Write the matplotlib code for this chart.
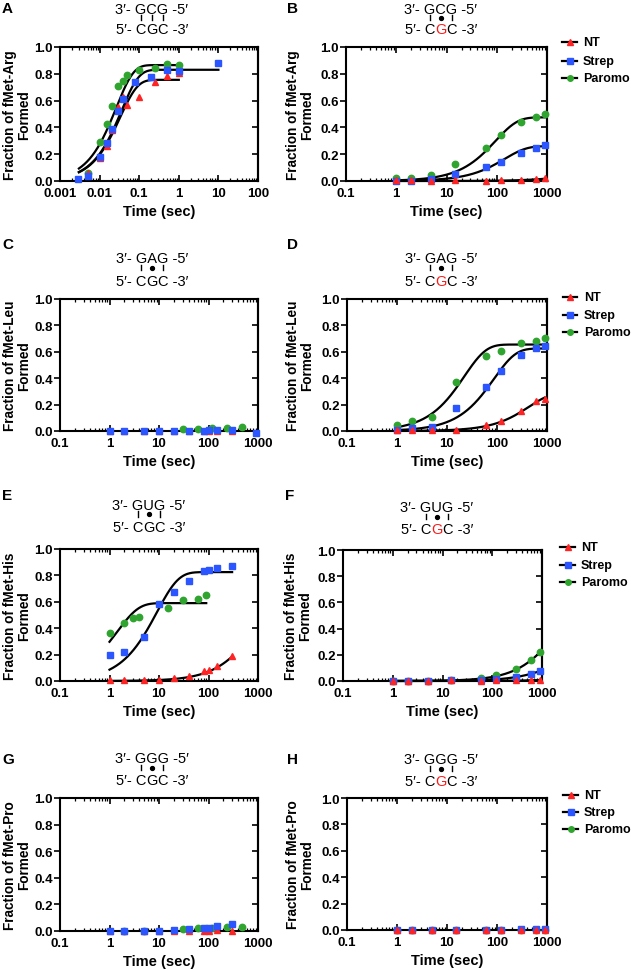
import numpy as np
import matplotlib
matplotlib.use('Agg')
import matplotlib.pyplot as plt
from matplotlib.lines import Line2D
from matplotlib.font_manager import FontProperties
from matplotlib.ticker import FixedLocator, LogLocator, NullFormatter

W, H = 631, 970
plt.rcParams['font.family'] = ['Liberation Sans', 'DejaVu Sans']

RED = '#ff2424'
BLUE = '#2b55ff'
GREEN = '#2fa52f'

# ---------------- data ----------------
# Panel A : fMet-Arg, cognate
a_nt_t = [0.005, 0.01, 0.015, 0.02, 0.03, 0.04, 0.05, 0.1, 0.25, 0.5, 1.0]
a_nt_y = [0.06, 0.17, 0.26, 0.38, 0.555, 0.625, 0.567, 0.625, 0.737, 0.787, 0.805]
a_st_t = [0.0028, 0.0052, 0.01, 0.015, 0.02, 0.03, 0.04, 0.077, 0.2, 0.5, 1.0, 10]
a_st_y = [0.012, 0.037, 0.18, 0.28, 0.387, 0.52, 0.61, 0.742, 0.775, 0.83, 0.818, 0.88]
a_pa_t = [0.005, 0.01, 0.015, 0.02, 0.03, 0.04, 0.05, 0.1, 0.25, 0.5, 1.0]
a_pa_y = [0.06, 0.2875, 0.425, 0.557, 0.707, 0.75, 0.79, 0.825, 0.845, 0.875, 0.863]
# fits: amplitude, rate (1/s), t start, t end
a_nt_fit = [0.755, 30.0, 0.003, 1.0]
a_st_fit = [0.83, 28.0, 0.003, 10.0]
a_pa_fit = [0.865, 38.0, 0.003, 1.0]

# Panel B
b_t = [1, 2, 5, 15, 60, 120, 300, 600, 900]
b_nt_y = [0.005, 0.005, 0.003, 0.005, 0.002, 0.005, 0.01, 0.015, 0.02]
b_st_y = [0.0, 0.0, 0.012, 0.05, 0.107, 0.145, 0.207, 0.25, 0.265]
b_pa_y = [0.02, 0.025, 0.045, 0.13, 0.25, 0.34, 0.4375, 0.48, 0.5]
b_nt_fit = [0.04, 0.0006, 1, 900]
b_st_fit = [0.26, 0.007, 1, 900]
b_pa_fit = [0.475, 0.0105, 1, 900]

# Panel C
c_nt_t = [1, 2, 5, 10, 20, 40, 80, 100, 150, 300]
c_nt_y = [0.0, 0.0, 0.0, 0.0, 0.0, 0.0, 0.0, 0.0, 0.0, 0.002]
c_st_t = [1, 2, 5, 10, 20, 40, 80, 100, 150, 300, 900]
c_st_y = [0.0, 0.0, 0.0, 0.002, 0.002, 0.002, 0.002, 0.007, 0.01, 0.01, -0.015]
c_pa_t = [30, 60, 120, 240, 480]
c_pa_y = [0.013, 0.018, 0.02, 0.025, 0.028]

# Panel D
d_t = [1, 2, 5, 15, 60, 120, 300, 600, 900]
d_nt_y = [0.005, 0.005, 0.005, 0.01, 0.043, 0.076, 0.151, 0.224, 0.244]
d_st_y = [0.01, 0.023, 0.028, 0.174, 0.337, 0.458, 0.579, 0.63, 0.647]
d_pa_y = [0.043, 0.075, 0.105, 0.37, 0.57, 0.605, 0.667, 0.68, 0.703]
d_nt_fit = [0.29, 0.0023, 1, 900]
d_st_fit = [0.625, 0.0115, 1, 900]
d_pa_fit = [0.655, 0.045, 1, 900]

# Panel E
e_t = [1, 2, 5, 10, 20, 40, 80, 100, 150, 300]
e_nt_y = [0.005, 0.005, 0.005, 0.01, 0.023, 0.038, 0.073, 0.08, 0.113, 0.19]
e_st_y = [0.199, 0.219, 0.33, 0.584, 0.673, 0.756, 0.836, 0.844, 0.856, 0.874]
e_pa_t = [1, 2, 3, 4, 15, 30, 60, 90]
e_pa_y = [0.363, 0.44, 0.479, 0.484, 0.552, 0.61, 0.622, 0.655]
e_nt_fit = [0.5, 0.00154, 1, 300]
e_st_fit = [0.825, 0.11, 1, 300]
e_pa_fit = [0.59, 0.7, 1, 90]

# Panel F
f_t = [1, 2, 5, 15, 60, 120, 300, 600, 900]
f_nt_y = [0.003, 0.003, 0.003, 0.005, 0.003, 0.005, 0.005, 0.005, 0.008]
f_st_y = [0.0, 0.0, 0.002, 0.005, 0.01, 0.018, 0.03, 0.05, 0.076]
f_pa_y = [0.0, 0.0, 0.002, 0.005, 0.025, 0.048, 0.089, 0.157, 0.22]
f_nt_fit = [0.02, 0.0005, 1, 900]
f_st_fit = [0.17, 0.00065, 1, 900]
f_pa_fit = [0.49, 0.00065, 1, 900]

# Panel G
g_nt_t = [1, 2, 5, 10, 20, 40, 80, 100, 150, 300]
g_nt_y = [0.0, 0.0, 0.0, 0.0, 0.0, 0.0, 0.0, 0.0, 0.005, 0.003]
g_st_t = [1, 2, 5, 10, 20, 40, 80, 100, 150, 300]
g_st_y = [0.0, 0.002, 0.002, 0.003, 0.01, 0.012, 0.02, 0.022, 0.038, 0.055]
g_pa_t = [2, 5, 30, 60, 120, 240, 480]
g_pa_y = [0.003, 0.003, 0.018, 0.02, 0.025, 0.03, 0.033]

# Panel H
h_t = [1, 2, 5, 15, 60, 120, 300, 600, 900]
h_nt_y = [0.003, 0.003, 0.003, 0.003, 0.003, 0.003, 0.003, 0.003, 0.003]
h_st_y = [0.002, 0.002, 0.002, 0.002, 0.002, 0.003, 0.004, 0.004, 0.004]
h_pa_y = [0.0, 0.0, 0.0, 0.0, 0.0, 0.0, 0.0, 0.0, 0.0]

series_names = ['NT', 'Strep', 'Paromo']
y_ticks = [0.0, 0.2, 0.4, 0.6, 0.8, 1.0]
y_tick_labels = ['0.0', '0.2', '0.4', '0.6', '0.8', '1.0']
x_ticks_a = [0.001, 0.01, 0.1, 1, 10, 100]
x_labels_a = ['0.001', '0.01', '0.1', '1', '10', '100']
x_ticks_b = [0.1, 1, 10, 100, 1000]
x_labels_b = ['0.1', '1', '10', '100', '1000']

# ---------------- figure ----------------
fig = plt.figure(figsize=(W / 100, H / 100), dpi=100)
renderer = fig.canvas.get_renderer()

STYLE = {'NT': dict(marker='^', color=RED, ms=4.6),
         'Strep': dict(marker='s', color=BLUE, ms=4.3),
         'Paromo': dict(marker='o', color=GREEN, ms=4.6)}


def fx(x):
    return x / W


def fy(y):
    return 1 - y / H


def make_axes(l, r, t, b, xt, xl):
    ax = fig.add_axes([fx(l), fy(b), (r - l) / W, (b - t) / H])
    ax.set_xscale('log')
    ax.set_xlim(xt[0], xt[-1])
    ax.set_ylim(0, 1.0)
    ax.xaxis.set_major_locator(FixedLocator(xt))
    ax.set_xticklabels(xl)
    ax.xaxis.set_minor_locator(LogLocator(base=10, subs=np.arange(2, 10), numticks=20))
    ax.xaxis.set_minor_formatter(NullFormatter())
    ax.set_yticks(y_ticks)
    ax.set_yticklabels(y_tick_labels)
    for s in ax.spines.values():
        s.set_linewidth(1.5)
    ax.tick_params(axis='x', which='major', direction='in', top=True, bottom=True,
                   length=4, width=1.2, pad=4.5)
    ax.tick_params(axis='x', which='minor', direction='in', top=True, bottom=True,
                   length=2.5, width=0.9)
    ax.tick_params(axis='y', which='major', direction='out', left=True, right=False,
                   length=4, width=1.2, pad=1)
    for lab in ax.get_xticklabels() + ax.get_yticklabels():
        lab.set_fontweight('bold')
        lab.set_fontsize(9.5)
    sec = ax.secondary_yaxis('right')
    sec.set_yticks(y_ticks)
    sec.tick_params(direction='in', length=4, width=1.2, labelright=False)
    sec.spines['right'].set_linewidth(1.5)
    return ax


def plot_points(ax, t, y, name, z):
    st = STYLE[name]
    ax.plot(t, y, linestyle='none', marker=st['marker'], ms=st['ms'],
            mfc=st['color'], mec=st['color'], clip_on=False, zorder=z)


def plot_fit(ax, fit):
    amp, k, t0, t1 = fit
    tt = np.logspace(np.log10(t0), np.log10(t1), 300)
    ax.plot(tt, amp * (1 - np.exp(-k * tt)), color='black', lw=1.6, zorder=4,
            clip_on=False)


fp_codon = FontProperties(family=['Liberation Sans', 'DejaVu Sans'], size=10.5)


def tw(s):
    w, h, d = renderer.get_text_width_height_descent(s, fp_codon, ismath=False)
    return w


def codon(xc, y1, y2, top, bot, marks, red_mid):
    s1 = '3\u2032- ' + top + ' -5\u2032'
    x0 = xc - tw(s1) / 2
    base_off = 4.5
    fig.text(fx(x0), fy(y1 + base_off), s1, fontproperties=fp_codon,
             ha='left', va='baseline')
    p1 = '5\u2032- ' + bot[0]
    s2 = p1 + bot[1] + bot[2] + ' -3\u2032'
    x0b = xc - tw(s2) / 2
    fig.text(fx(x0b), fy(y2 + base_off), p1, fontproperties=fp_codon,
             ha='left', va='baseline')
    xm = x0b + tw(p1)
    fig.text(fx(xm), fy(y2 + base_off), bot[1], fontproperties=fp_codon,
             ha='left', va='baseline', color=('#ff1a1a' if red_mid else 'black'))
    xr = xm + tw(bot[1])
    fig.text(fx(xr), fy(y2 + base_off), bot[2] + ' -3\u2032', fontproperties=fp_codon,
             ha='left', va='baseline')
    pre = tw('5\u2032- ')
    centers = []
    for i in range(3):
        cx = x0b + pre + tw(bot[:i]) + tw(bot[i]) / 2
        centers.append(cx)
    ym = (y1 + y2) / 2 - 1.5
    for cx, m in zip(centers, marks):
        if m == '|':
            fig.add_artist(Line2D([fx(cx), fx(cx)], [fy(ym - 2.6), fy(ym + 2.6)],
                                  color='black', lw=1.0, transform=fig.transFigure))
        else:
            fig.add_artist(Line2D([fx(cx)], [fy(ym)], marker='o', ms=2.8,
                                  color='black', transform=fig.transFigure))


def legend(x0, x1, xt, rows):
    for name, yr in zip(series_names, rows):
        st = STYLE[name]
        fig.add_artist(Line2D([fx(x0), fx(x1)], [fy(yr), fy(yr)], color='black',
                              lw=1.6, transform=fig.transFigure))
        fig.add_artist(Line2D([fx((x0 + x1) / 2)], [fy(yr)], marker=st['marker'],
                              ms=st['ms'] - 0.6, mfc=st['color'], mec=st['color'],
                              transform=fig.transFigure))
        fig.text(fx(xt), fy(yr), name, fontsize=9, fontweight='bold',
                 ha='left', va='center')


def labels(ax, l, r, t, b, ylab, ylx, xlab=True):
    fig.text(fx(ylx), fy((t + b) / 2), ylab, rotation=90, ha='center', va='center',
             fontsize=9.8, fontweight='bold', multialignment='center',
             linespacing=1.0)
    if xlab:
        fig.text(fx((l + r) / 2), fy(b + 30), 'Time (sec)', ha='center',
                 va='center', fontsize=10.5, fontweight='bold')


def panel_letter(x, y, s):
    fig.text(fx(x), fy(y), s, fontsize=11, fontweight='bold', ha='left', va='center')


# ---- Panel A ----
L, R, T, B = 60, 258, 48, 182
ax = make_axes(L, R, T, B, x_ticks_a, x_labels_a)
plot_points(ax, a_pa_t, a_pa_y, 'Paromo', 5)
plot_points(ax, a_nt_t, a_nt_y, 'NT', 6)
plot_points(ax, a_st_t, a_st_y, 'Strep', 7)
for f in (a_nt_fit, a_st_fit, a_pa_fit):
    plot_fit(ax, f)
labels(ax, L, R, T, B, 'Fraction of fMet-Arg\nFormed', 17)
panel_letter(2, 9, 'A')
codon(152, 10, 30, 'GCG', 'CGC', '|||', False)

# ---- Panel B ----
L, R, T, B = 346, 547, 48, 182
ax = make_axes(L, R, T, B, x_ticks_b, x_labels_b)
plot_points(ax, b_t, b_pa_y, 'Paromo', 5)
plot_points(ax, b_t, b_st_y, 'Strep', 6)
plot_points(ax, b_t, b_nt_y, 'NT', 7)
for f in (b_nt_fit, b_st_fit, b_pa_fit):
    plot_fit(ax, f)
labels(ax, L, R, T, B, 'Fraction of fMet-Arg\nFormed', 300)
panel_letter(287, 9, 'B')
codon(441, 10, 30, 'GCG', 'CGC', '|•|', True)
legend(562, 577, 583, [43, 62, 79])

# ---- Panel C ----
L, R, T, B = 60, 258, 300, 432
ax = make_axes(L, R, T, B, x_ticks_b, x_labels_b)
plot_points(ax, c_nt_t, c_nt_y, 'NT', 5)
plot_points(ax, c_pa_t, c_pa_y, 'Paromo', 6)
plot_points(ax, c_st_t, c_st_y, 'Strep', 7)
labels(ax, L, R, T, B, 'Fraction of fMet-Leu\nFormed', 17)
panel_letter(2, 245, 'C')
codon(152, 259, 281, 'GAG', 'CGC', '|•|', False)

# ---- Panel D ----
L, R, T, B = 347, 547, 300, 432
ax = make_axes(L, R, T, B, x_ticks_b, x_labels_b)
plot_points(ax, d_t, d_pa_y, 'Paromo', 5)
plot_points(ax, d_t, d_st_y, 'Strep', 6)
plot_points(ax, d_t, d_nt_y, 'NT', 7)
for f in (d_nt_fit, d_st_fit, d_pa_fit):
    plot_fit(ax, f)
labels(ax, L, R, T, B, 'Fraction of fMet-Leu\nFormed', 300)
panel_letter(287, 245, 'D')
codon(441, 259, 281, 'GAG', 'CGC', '|•|', True)
legend(563, 577, 584, [298, 316, 333])

# ---- Panel E ----
L, R, T, B = 60, 258, 550, 682
ax = make_axes(L, R, T, B, x_ticks_b, x_labels_b)
plot_points(ax, e_pa_t, e_pa_y, 'Paromo', 5)
plot_points(ax, e_t, e_st_y, 'Strep', 6)
plot_points(ax, e_t, e_nt_y, 'NT', 7)
for f in (e_nt_fit, e_st_fit, e_pa_fit):
    plot_fit(ax, f)
labels(ax, L, R, T, B, 'Fraction of fMet-His\nFormed', 17)
panel_letter(2, 496, 'E')
codon(149, 506, 527, 'GUG', 'CGC', '|•|', False)

# ---- Panel F ----
L, R, T, B = 343, 542, 551, 682
ax = make_axes(L, R, T, B, x_ticks_b, x_labels_b)
plot_points(ax, f_t, f_pa_y, 'Paromo', 5)
plot_points(ax, f_t, f_st_y, 'Strep', 6)
plot_points(ax, f_t, f_nt_y, 'NT', 7)
for f in (f_nt_fit, f_st_fit, f_pa_fit):
    plot_fit(ax, f)
labels(ax, L, R, T, B, 'Fraction of fMet-His\nFormed', 298)
panel_letter(285, 496, 'F')
codon(437, 508, 530, 'GUG', 'CGC', '|•|', True)
legend(560, 575, 581, [548, 566, 583])

# ---- Panel G ----
L, R, T, B = 60, 258, 799, 932
ax = make_axes(L, R, T, B, x_ticks_b, x_labels_b)
plot_points(ax, g_pa_t, g_pa_y, 'Paromo', 5)
plot_points(ax, g_nt_t, g_nt_y, 'NT', 6)
plot_points(ax, g_st_t, g_st_y, 'Strep', 7)
labels(ax, L, R, T, B, 'Fraction of fMet-Pro\nFormed', 17)
panel_letter(2, 760, 'G')
codon(152, 759, 781, 'GGG', 'CGC', '|•|', False)

# ---- Panel H ----
L, R, T, B = 347, 547, 799, 931
ax = make_axes(L, R, T, B, x_ticks_b, x_labels_b)
plot_points(ax, h_t, h_pa_y, 'Paromo', 5)
plot_points(ax, h_t, h_st_y, 'Strep', 6)
plot_points(ax, h_t, h_nt_y, 'NT', 7)
labels(ax, L, R, T, B, 'Fraction of fMet-Pro\nFormed', 300)
panel_letter(287, 760, 'H')
codon(441, 760, 782, 'GGG', 'CGC', '|•|', True)
legend(563, 578, 584, [796, 813, 830])

fig.savefig('out.png', dpi=100)
